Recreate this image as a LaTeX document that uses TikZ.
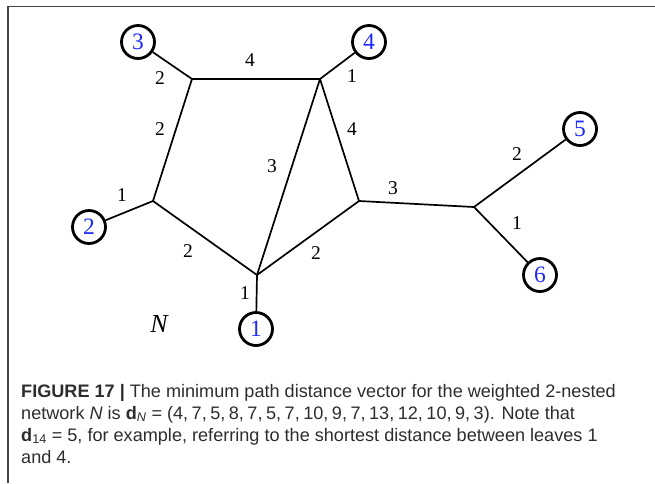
\documentclass[tikz,border=0pt]{standalone}
\usepackage{fontspec}
\setmainfont{Liberation Serif}
\newfontfamily\capfont{Liberation Sans}
\definecolor{leafblue}{RGB}{30,40,255}
\definecolor{framegray}{RGB}{70,70,70}
\definecolor{capgray}{RGB}{45,45,45}
\begin{document}
\begin{tikzpicture}[x=1pt,y=-1pt,
  edge/.style={line width=1.7pt},
  leaf/.style={circle,draw,line width=2.8pt,minimum size=33pt,inner sep=0pt,text=leafblue,font=\fontsize{23.5}{23.5}\selectfont},
  wlabel/.style={font=\fontsize{19.5}{19.5}\selectfont,inner sep=0pt}]
\useasboundingbox (0,0) rectangle (655,483);
\draw[framegray,line width=1.3pt] (8,483) -- (8,6.7) -- (655,6.7);
% internal vertices
\coordinate (A) at (192,79);
\coordinate (B) at (320,79);
\coordinate (C) at (153,201);
\coordinate (D) at (257,275);
\coordinate (E) at (359,201);
\coordinate (F) at (474,207);
% leaves
\node[leaf] (l3) at (138,42) {3};
\node[leaf] (l4) at (369,42) {4};
\node[leaf] (l2) at (89,227) {2};
\node[leaf] (l1) at (256,329) {1};
\node[leaf] (l5) at (580,129) {5};
\node[leaf] (l6) at (540,275) {6};
% edges
\draw[edge] (l3) -- (A);
\draw[edge] (A) -- (B);
\draw[edge] (B) -- (l4);
\draw[edge] (A) -- (C);
\draw[edge] (C) -- (l2);
\draw[edge] (C) -- (D);
\draw[edge] (B) -- (D);
\draw[edge] (B) -- (E);
\draw[edge] (D) -- (E);
\draw[edge] (D) -- (l1);
\draw[edge] (E) -- (F);
\draw[edge] (F) -- (l5);
\draw[edge] (F) -- (l6);
% weights
\node[wlabel] (w3A) at (160,78) {2};
\node[wlabel] (wAB) at (250,60) {4};
\node[wlabel] (wB4) at (352,76) {1};
\node[wlabel] (wAC) at (160,129) {2};
\node[wlabel] (wBE) at (352,129) {4};
\node[wlabel] (wBD) at (272,166) {3};
\node[wlabel] (wC2) at (122,195) {1};
\node[wlabel] (wCD) at (188,251) {2};
\node[wlabel] (wDE) at (316,253) {2};
\node[wlabel] (wD1) at (245,293) {1};
\node[wlabel] (wEF) at (393,188) {3};
\node[wlabel] (wF5) at (517,154) {2};
\node[wlabel] (wF6) at (517,223) {1};
\node[font=\fontsize{26}{26}\selectfont\itshape] (N) at (159,324) {N};
% caption
\node[anchor=north west,align=left,inner sep=0pt,text=capgray,font=\capfont\fontsize{18.1}{22}\selectfont] (cap) at (21,383.7)
{\textbf{FIGURE 17 |} The minimum path distance vector for the weighted 2-nested\\
network \textit{N} is \textbf{d}\textsubscript{\textit{N}}\kern5pt=\kern5pt(4,\kern3.5pt7,\kern3.5pt5,\kern3.5pt8,\kern3.5pt7,\kern3.5pt5,\kern3.5pt7,\kern3.5pt10,\kern3.5pt9,\kern3.5pt7,\kern3.5pt13,\kern3.5pt12,\kern3.5pt10,\kern3.5pt9,\kern3.5pt3). Note that\\
\textbf{d}\textsubscript{14}\kern5pt=\kern5pt5, for example, referring to the shortest distance between leaves 1\\
and 4.};
\end{tikzpicture}
\end{document}
